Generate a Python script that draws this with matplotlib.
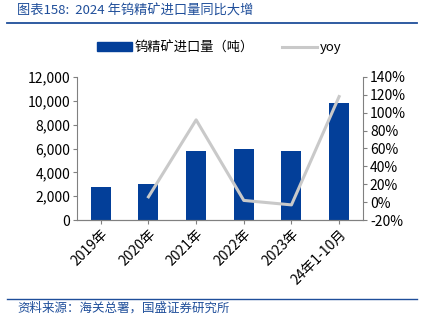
import matplotlib
matplotlib.use('Agg')
import matplotlib.pyplot as plt
from matplotlib.ticker import FuncFormatter
from matplotlib.lines import Line2D

plt.rcParams['font.family'] = ['Noto Sans CJK SC', 'DejaVu Sans']

# data
years = ['2019年', '2020年', '2021年', '2022年', '2023年', '24年1-10月']
imports = [2800, 3000, 5800, 5950, 5800, 9800]
yoy = [None, 6, 92, 2, -3, 118]

bar_color = '#033F99'
line_color = '#C9C9C9'
blue_text = '#1F4E9A'

fig = plt.figure(figsize=(4.23, 3.30), dpi=100)
ax = fig.add_axes([0.182, 0.333, 0.676, 0.434])
ax2 = ax.twinx()

x = list(range(len(years)))
ax.bar(x, imports, width=0.42, color=bar_color, zorder=2)
ax.set_ylim(0, 12000)
ax.set_yticks(range(0, 12001, 2000))
ax.yaxis.set_major_formatter(FuncFormatter(lambda v, p: f'{int(v):,}'))
ax.set_xlim(-0.5, len(years) - 0.5)
ax.set_xticks(x)
ax.set_xticklabels(years, rotation=45, ha='right', rotation_mode='anchor', fontsize=10)

xs = [i for i, v in zip(x, yoy) if v is not None]
ys = [v for v in yoy if v is not None]
ax2.plot(xs, ys, color=line_color, lw=2.2, zorder=3)
ax2.set_ylim(-20, 140)
ax2.set_yticks(range(-20, 141, 20))
ax2.yaxis.set_major_formatter(FuncFormatter(lambda v, p: f'{int(v)}%'))

for a in (ax, ax2):
    a.spines['top'].set_visible(False)
    for s in ('left', 'right', 'bottom'):
        a.spines[s].set_color('#808080')
    a.tick_params(labelsize=10, length=3, color='#808080', pad=2)
ax2.spines['left'].set_visible(False)
ax.spines['right'].set_visible(False)

handles = [plt.Rectangle((0, 0), 1, 1, color=bar_color),
           Line2D([0], [0], color=line_color, lw=2.2)]
fig.legend(handles, ['钨精矿进口量（吨）', 'yoy'], loc='center', bbox_to_anchor=(0.518, 0.855),
           ncol=2, frameon=False, fontsize=9.5, handlelength=2.6, handleheight=0.7,
           columnspacing=2.2, handletextpad=0.2)

# title and footer
fig.text(0.04, 0.965, '图表158:  2024 年钨精矿进口量同比大增', color=blue_text,
         fontsize=9.5, style='italic', va='center')
fig.add_artist(Line2D([0.017, 0.985], [0.93, 0.93], color=blue_text, lw=1.3))
fig.add_artist(Line2D([0.017, 0.985], [0.095, 0.095], color=blue_text, lw=1.0))
fig.text(0.04, 0.065, '资料来源：海关总署，国盛证券研究所', color=blue_text,
         fontsize=9, style='italic', va='center')

fig.savefig('out.png', dpi=100)
